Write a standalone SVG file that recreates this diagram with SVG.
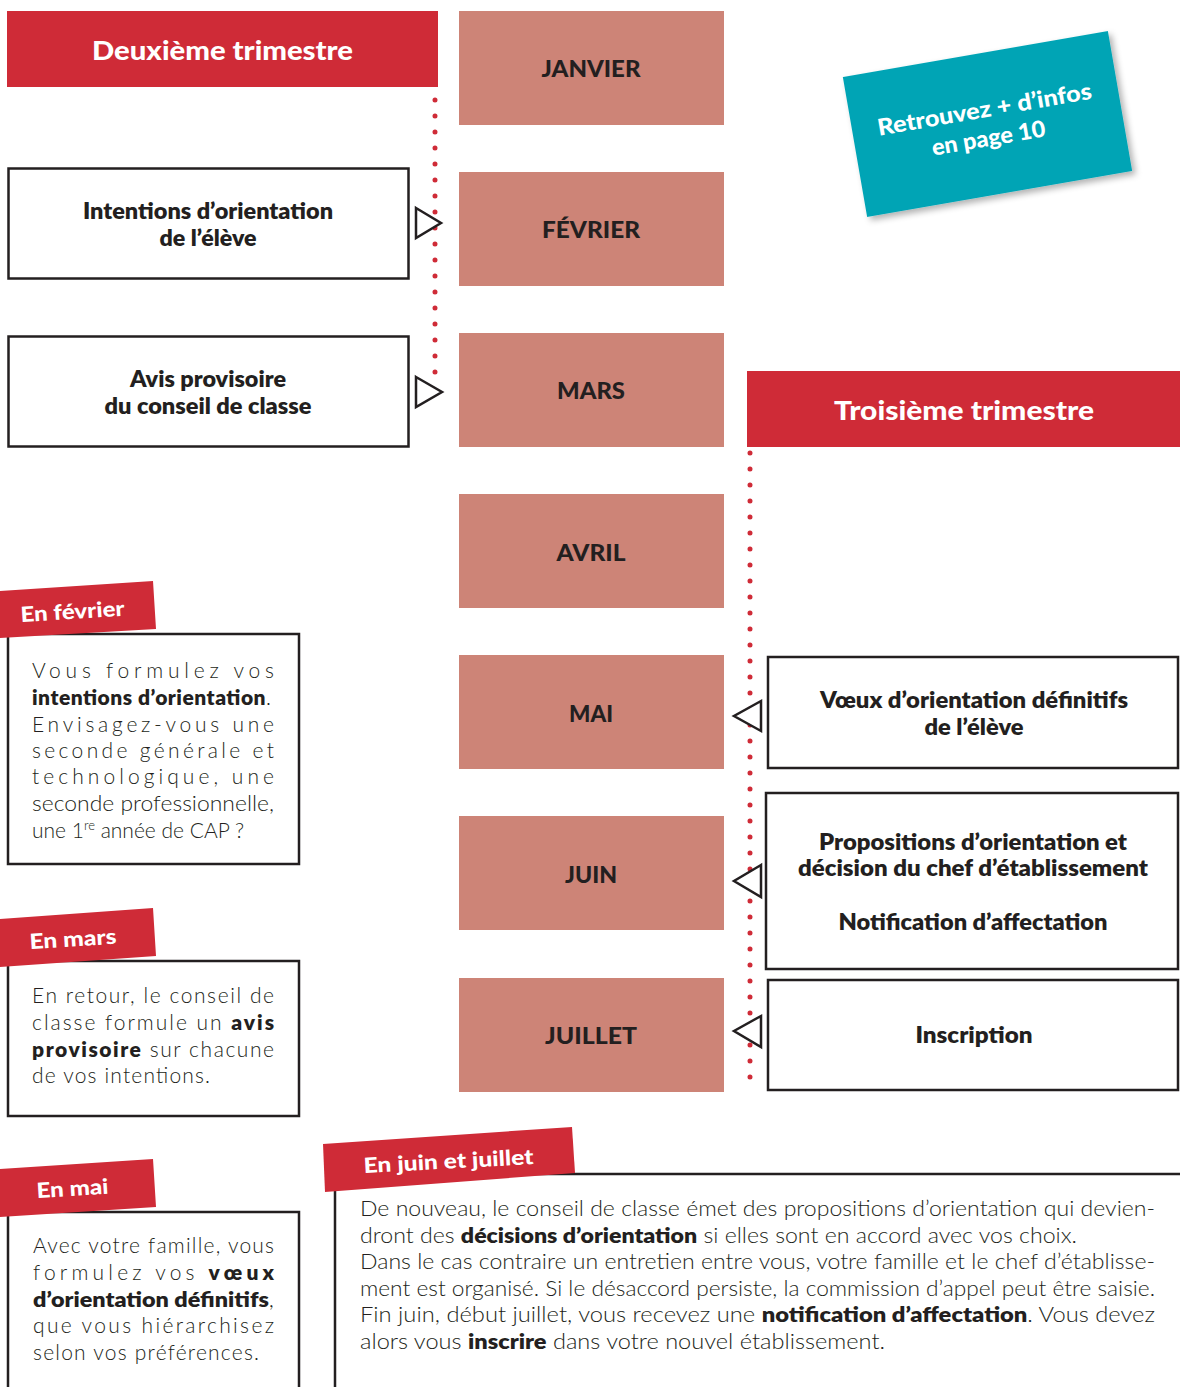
<svg xmlns="http://www.w3.org/2000/svg" width="1180" height="1387" viewBox="0 0 1180 1387">
<style>
text{font-family:Lato,"Open Sans","Liberation Sans",sans-serif}
.hdr{font-weight:900;fill:#fff;font-size:27px;text-anchor:middle}
.mon{font-weight:900;fill:#231f20;font-size:23px;text-anchor:middle}
.lbl{font-weight:800;fill:#231f20;font-size:22px;text-anchor:middle}
.body{font-weight:300;fill:#231f20;font-size:21px}
.b{font-weight:800}
.tag{font-weight:900;fill:#fff;font-size:21px}
.box{fill:#fff;stroke:#231f20;stroke-width:2.5}
.month{fill:#cd8477}
.red{fill:#cf2b37}
.tri{fill:#fff;stroke:#231f20;stroke-width:2.5;stroke-linejoin:miter}
.dots{fill:none;stroke:#cf2b37;stroke-width:5;stroke-linecap:round;stroke-dasharray:0 16}
</style>
<defs>
<filter id="sh" x="-20%" y="-20%" width="140%" height="150%">
<feDropShadow dx="3" dy="4" stdDeviation="3" flood-color="#000" flood-opacity="0.3"/>
</filter>
</defs>
<rect width="1180" height="1387" fill="#fff"/>

<g id="hdr2">
<rect class="red" x="7" y="11" width="431" height="76"/>
<text class="hdr" x="222.5" y="60" textLength="261" lengthAdjust="spacingAndGlyphs">Deuxième trimestre</text>
</g>
<g id="hdr3">
<rect class="red" x="747" y="371" width="433" height="76"/>
<text class="hdr" x="964" y="420" textLength="260" lengthAdjust="spacingAndGlyphs">Troisième trimestre</text>
</g>

<g id="janvier"><rect class="month" x="459" y="11" width="265" height="114"/><text class="mon" x="591" y="77" textLength="99" lengthAdjust="spacingAndGlyphs">JANVIER</text></g>
<g id="fevrier"><rect class="month" x="459" y="172" width="265" height="114"/><text class="mon" x="591" y="238" textLength="98" lengthAdjust="spacingAndGlyphs">FÉVRIER</text></g>
<g id="mars"><rect class="month" x="459" y="333" width="265" height="114"/><text class="mon" x="591" y="399" textLength="68" lengthAdjust="spacingAndGlyphs">MARS</text></g>
<g id="avril"><rect class="month" x="459" y="494" width="265" height="114"/><text class="mon" x="591" y="561" textLength="69" lengthAdjust="spacingAndGlyphs">AVRIL</text></g>
<g id="mai"><rect class="month" x="459" y="655" width="265" height="114"/><text class="mon" x="591" y="722" textLength="44" lengthAdjust="spacingAndGlyphs">MAI</text></g>
<g id="juin"><rect class="month" x="459" y="816" width="265" height="114"/><text class="mon" x="591" y="883" textLength="52" lengthAdjust="spacingAndGlyphs">JUIN</text></g>
<g id="juillet"><rect class="month" x="459" y="978" width="265" height="114"/><text class="mon" x="591" y="1044" textLength="92" lengthAdjust="spacingAndGlyphs">JUILLET</text></g>

<g id="intentions">
<rect class="box" x="8.5" y="168.5" width="400" height="110"/>
<text class="lbl" x="208" y="219" textLength="250" lengthAdjust="spacingAndGlyphs">Intentions d’orientation</text>
<text class="lbl" x="208" y="246" textLength="97" lengthAdjust="spacingAndGlyphs">de l’élève</text>
</g>
<g id="avis">
<rect class="box" x="8.5" y="336.5" width="400" height="110"/>
<text class="lbl" x="208" y="387" textLength="156" lengthAdjust="spacingAndGlyphs">Avis provisoire</text>
<text class="lbl" x="208" y="414" textLength="207" lengthAdjust="spacingAndGlyphs">du conseil de classe</text>
</g>

<g id="voeux">
<rect class="box" x="768" y="657" width="410" height="111"/>
<text class="lbl" x="974" y="708" textLength="308" lengthAdjust="spacingAndGlyphs">Vœux d’orientation définitifs</text>
<text class="lbl" x="974" y="735" textLength="99" lengthAdjust="spacingAndGlyphs">de l’élève</text>
</g>
<g id="propositions">
<rect class="box" x="766" y="793" width="412" height="176"/>
<text class="lbl" x="973" y="850" textLength="308" lengthAdjust="spacingAndGlyphs">Propositions d’orientation et</text>
<text class="lbl" x="973" y="876" textLength="350" lengthAdjust="spacingAndGlyphs">décision du chef d’établissement</text>
<text class="lbl" x="973" y="930" textLength="269" lengthAdjust="spacingAndGlyphs">Notification d’affectation</text>
</g>
<g id="inscription">
<rect class="box" x="768" y="980" width="410" height="110"/>
<text class="lbl" x="974" y="1043" textLength="117" lengthAdjust="spacingAndGlyphs">Inscription</text>
</g>

<g id="connectors">
<line class="dots" x1="435" y1="100" x2="435" y2="382"/>
<line class="dots" x1="750" y1="453" x2="750" y2="1088"/>
<polygon class="tri" points="416,208 441,223 416,238"/>
<polygon class="tri" points="416,377 442,392 416,407"/>
<polygon class="tri" points="761,701 734,716 761,731"/>
<polygon class="tri" points="761,865 734,881 761,897"/>
<polygon class="tri" points="761,1016 734,1031 761,1047"/>
</g>

<g id="infos" transform="rotate(-9.85 987.5 124)">
<rect x="853" y="53" width="269" height="142" fill="#00a4b5" filter="url(#sh)"/>
<text x="987" y="117" font-weight="900" font-size="23" fill="#fff" text-anchor="middle" textLength="217" lengthAdjust="spacingAndGlyphs">Retrouvez + d’infos</text>
<text x="986" y="146" font-weight="900" font-size="23" fill="#fff" text-anchor="middle" textLength="115" lengthAdjust="spacingAndGlyphs">en page 10</text>
</g>

<g id="en-fevrier">
<rect class="box" x="8" y="634" width="291" height="230"/>
<polygon class="red" points="0,591 153,581 156,629 0,638"/>
<text class="tag" x="21" y="622" transform="rotate(-3.5 21 622)" textLength="104" lengthAdjust="spacingAndGlyphs">En février</text>
<text class="body" x="32" y="678" textLength="242" lengthAdjust="spacing">Vous formulez vos</text>
<text class="body" x="32" y="705" textLength="239" lengthAdjust="spacing"><tspan class="b">intentions d’orientation</tspan>.</text>
<text class="body" x="32" y="732" textLength="242" lengthAdjust="spacing">Envisagez-vous une</text>
<text class="body" x="32" y="758" textLength="242" lengthAdjust="spacing">seconde générale et</text>
<text class="body" x="32" y="784" textLength="242" lengthAdjust="spacing">technologique, une</text>
<text class="body" x="32" y="811" textLength="242" lengthAdjust="spacingAndGlyphs">seconde professionnelle,</text>
<text class="body" x="32" y="838">une 1<tspan font-size="13" dy="-8">re</tspan><tspan dy="8"> année de CAP ?</tspan></text>
</g>

<g id="en-mars">
<rect class="box" x="8" y="961" width="291" height="155"/>
<polygon class="red" points="0,919 153,908 156,956 0,967"/>
<text class="tag" x="30" y="949" transform="rotate(-3.5 30 949)" textLength="87" lengthAdjust="spacingAndGlyphs">En mars</text>
<text class="body" x="32" y="1003" textLength="242" lengthAdjust="spacing">En retour, le conseil de</text>
<text class="body" x="32" y="1030" textLength="242" lengthAdjust="spacing">classe formule un <tspan class="b">avis</tspan></text>
<text class="body" x="32" y="1057" textLength="242" lengthAdjust="spacing"><tspan class="b">provisoire</tspan> sur chacune</text>
<text class="body" x="32" y="1083" textLength="178" lengthAdjust="spacing">de vos intentions.</text>
</g>

<g id="en-mai">
<rect class="box" x="8" y="1212" width="291" height="190"/>
<polygon class="red" points="0,1169 153,1159 156,1207 0,1217"/>
<text class="tag" x="37" y="1198" transform="rotate(-3.5 37 1198)" textLength="72" lengthAdjust="spacingAndGlyphs">En mai</text>
<text class="body" x="33" y="1253" textLength="241" lengthAdjust="spacing">Avec votre famille, vous</text>
<text class="body" x="33" y="1280" textLength="241" lengthAdjust="spacing">formulez vos <tspan class="b">vœux</tspan></text>
<text class="body" x="33" y="1307" textLength="241" lengthAdjust="spacingAndGlyphs"><tspan class="b">d’orientation définitifs</tspan>,</text>
<text class="body" x="33" y="1333" textLength="241" lengthAdjust="spacing">que vous hiérarchisez</text>
<text class="body" x="33" y="1360" textLength="226" lengthAdjust="spacing">selon vos préférences.</text>
</g>

<g id="en-juin-juillet">
<rect class="box" x="335" y="1174" width="860" height="230"/>
<polygon class="red" points="323,1144 572,1127 575,1173 325,1192"/>
<text class="tag" x="364" y="1173" transform="rotate(-3 364 1173)" textLength="170" lengthAdjust="spacingAndGlyphs">En juin et juillet</text>
<text class="body" x="360" y="1216" textLength="795" lengthAdjust="spacingAndGlyphs">De nouveau, le conseil de classe émet des propositions d’orientation qui devien-</text>
<text class="body" x="360" y="1243" textLength="717" lengthAdjust="spacingAndGlyphs">dront des <tspan class="b">décisions d’orientation</tspan> si elles sont en accord avec vos choix.</text>
<text class="body" x="360" y="1269" textLength="795" lengthAdjust="spacingAndGlyphs">Dans le cas contraire un entretien entre vous, votre famille et le chef d’établisse-</text>
<text class="body" x="360" y="1296" textLength="795" lengthAdjust="spacingAndGlyphs">ment est organisé. Si le désaccord persiste, la commission d’appel peut être saisie.</text>
<text class="body" x="360" y="1322" textLength="795" lengthAdjust="spacingAndGlyphs">Fin juin, début juillet, vous recevez une <tspan class="b">notification d’affectation</tspan>. Vous devez</text>
<text class="body" x="360" y="1349" textLength="525" lengthAdjust="spacingAndGlyphs">alors vous <tspan class="b">inscrire</tspan> dans votre nouvel établissement.</text>
</g>
</svg>
